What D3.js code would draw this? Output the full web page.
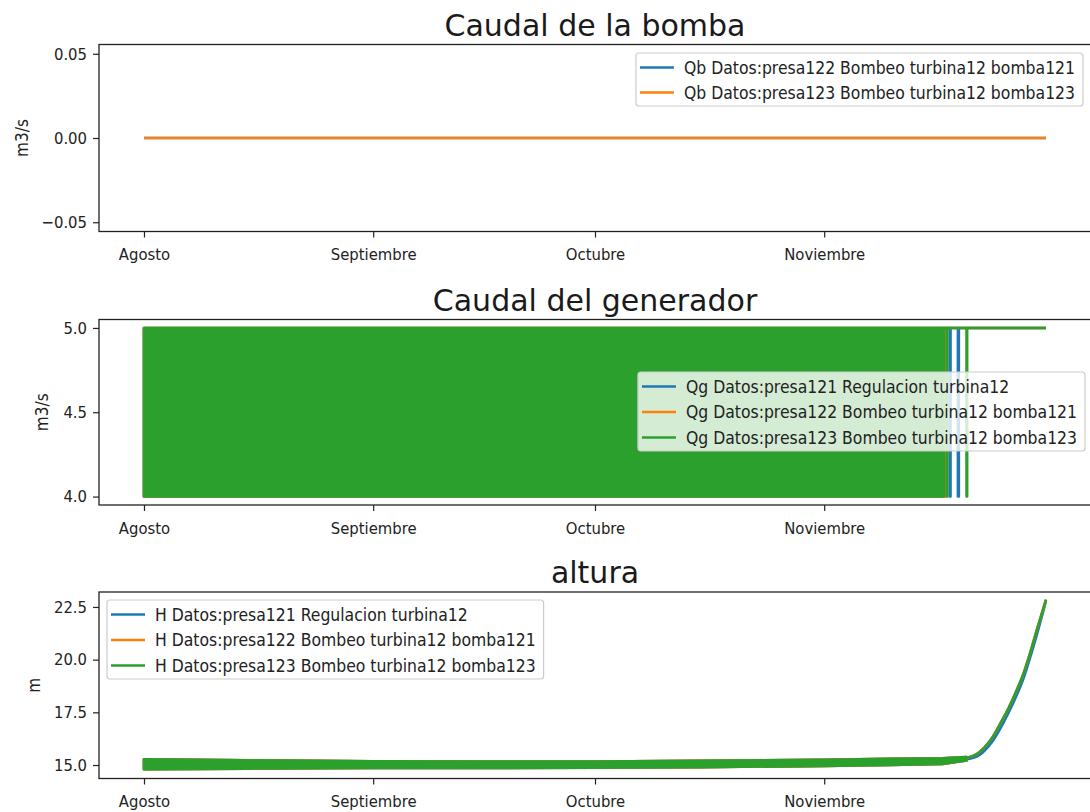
<!DOCTYPE html>
<html>
<head>
<meta charset="utf-8">
<script src="https://cdn.jsdelivr.net/npm/d3@7"></script>
<style>
  body { margin: 0; background: #fff; }
  .tick text, .lg text { font-family: "DejaVu Sans Condensed", "DejaVu Sans", sans-serif; font-stretch: condensed; }
</style>
</head>
<body>
<svg id="chart" width="1090" height="812"></svg>
<script>
// --- data ---
var monthDates = ["2018-08-01T00:00", "2018-09-01T00:00", "2018-10-01T00:00", "2018-11-01T00:00"];
var monthLabels = ["Agosto", "Septiembre", "Octubre", "Noviembre"];

// caudal de la bomba
var qbLabels = ["Qb Datos:presa122 Bombeo turbina12 bomba121", "Qb Datos:presa123 Bombeo turbina12 bomba123"];
var qbDates = ["2018-08-01T00:00", "2018-12-01T00:00"];
var qbPresa122 = [0, 0];
var qbPresa123 = [0, 0];
var qbTicks = [-0.05, 0.00, 0.05];

// caudal del generador: hourly switching 4 <-> 5 (drawn as its envelope), then last switches
var qgLabels = ["Qg Datos:presa121 Regulacion turbina12", "Qg Datos:presa122 Bombeo turbina12 bomba121", "Qg Datos:presa123 Bombeo turbina12 bomba123"];
var qgSwitchStart = "2018-08-01T00:00";
var qgSwitchEnd = ["2018-11-17T03:00", "2018-11-17T04:00", "2018-11-17T05:00"];
var qgSwitchRange = [4, 5];
var qgTailDates121 = ["2018-11-17T03:00", "2018-11-18T00:00", "2018-11-18T02:00", "2018-11-19T02:00", "2018-11-19T05:00", "2018-12-01T00:00"];
var qgTail121 = [5, 4, 5, 4, 5, 5];
var qgTailDates122 = ["2018-11-17T04:00", "2018-11-17T10:00", "2018-11-17T12:00", "2018-12-01T00:00"];
var qgTail122 = [5, 4, 5, 5];
var qgTailDates123 = ["2018-11-17T05:00", "2018-11-17T14:00", "2018-11-17T16:00", "2018-11-20T06:00", "2018-11-20T08:00", "2018-12-01T00:00"];
var qgTail123 = [5, 4, 5, 4, 5, 5];
var qgTicks = [4.0, 4.5, 5.0];

// altura: noisy band, then rising curve
var hLabels = ["H Datos:presa121 Regulacion turbina12", "H Datos:presa122 Bombeo turbina12 bomba121", "H Datos:presa123 Bombeo turbina12 bomba123"];
var hNoiseDates = ["2018-08-01T00:00", "2018-08-15T00:00", "2018-09-01T00:00", "2018-09-15T00:00", "2018-10-01T00:00", "2018-10-15T00:00", "2018-11-01T00:00", "2018-11-10T00:00", "2018-11-17T00:00", "2018-11-20T06:00"];
var hNoiseLow = [14.80, 14.83, 14.86, 14.86, 14.87, 14.90, 14.95, 15.00, 15.05, 15.22];
var hNoiseHigh = [15.27, 15.22, 15.18, 15.16, 15.16, 15.20, 15.25, 15.30, 15.32, 15.38];
var hRiseDates = ["2018-11-20T06:00", "2018-11-21T15:00", "2018-11-22T13:00", "2018-11-23T16:00", "2018-11-24T19:00", "2018-11-25T22:00", "2018-11-27T01:00", "2018-11-27T23:00", "2018-11-28T20:00", "2018-11-29T18:00", "2018-12-01T00:00"];
var hRise121 = [15.28, 15.40, 15.63, 16.08, 16.72, 17.47, 18.32, 19.12, 20.08, 21.18, 22.80];
var hRise122 = [15.33, 15.52, 15.79, 16.27, 16.95, 17.69, 18.56, 19.35, 20.30, 21.40, 22.85];
var hRise123 = [15.33, 15.52, 15.79, 16.27, 16.95, 17.69, 18.56, 19.35, 20.30, 21.40, 22.85];
var hTicks = [15.0, 17.5, 20.0, 22.5];

var colors = ["#1f77b4", "#ff7f0e", "#2ca02c"];

// --- drawing ---
var parse = d3.isoParse;
var svg = d3.select('#chart');
var lw = 2.6;

var x = d3.scaleTime()
    .domain([d3.timeHour.offset(parse("2018-08-01T00:00"), -146), d3.timeHour.offset(parse("2018-12-01T00:00"), 146)])
    .range([99, 1091]);

function panel(top, bottom, yDomain, ticks, fmt, title, ylabel, ylabelX) {
  var g = svg.append('g');
  var y = d3.scaleLinear().domain(yDomain).range([bottom, top]);
  var plot = g.append('g');

  g.append('text').attr('x', 595).attr('y', top - 9)
    .attr('text-anchor', 'middle')
    .style('font-family', 'DejaVu Sans').style('font-size', '30px').style('fill', '#1a1a1a')
    .text(title);

  var ya = g.append('g').attr('transform', 'translate(99,0)')
    .call(d3.axisLeft(y).tickValues(ticks).tickFormat(fmt).tickSize(6).tickPadding(6));
  var xa = g.append('g').attr('transform', 'translate(0,' + bottom + ')')
    .call(d3.axisBottom(x).tickValues(monthDates.map(parse))
      .tickFormat(function(d, i) { return monthLabels[i]; }).tickSize(6).tickPadding(11));
  [ya, xa].forEach(function(a) {
    a.select('.domain').remove();
    a.selectAll('.tick line').attr('stroke', '#222').attr('stroke-width', 1.2);
    a.selectAll('.tick text').style('font-size', '16.5px').attr('fill', '#222');
  });

  g.append('rect').attr('x', 99).attr('y', top).attr('width', 992).attr('height', bottom - top)
    .attr('fill', 'none').attr('stroke', '#222').attr('stroke-width', 1.3);

  g.append('text').attr('transform', 'translate(' + ylabelX + ',' + ((top + bottom) / 2) + ') rotate(-90)')
    .attr('text-anchor', 'middle')
    .style('font-family', '"DejaVu Sans Condensed", "DejaVu Sans"').style('font-stretch', 'condensed')
    .style('font-size', '17px').style('fill', '#222')
    .text(ylabel);

  return { g: g, plot: plot, y: y };
}

function drawLine(p, dates, vals, color, curve) {
  var pts = dates.map(function(d, i) { return [parse(d), vals[i]]; });
  p.plot.append('path')
    .attr('d', d3.line().curve(curve || d3.curveLinear)
      .x(function(d) { return x(d[0]); }).y(function(d) { return p.y(d[1]); })(pts))
    .attr('fill', 'none').attr('stroke', color).attr('stroke-width', lw)
    .attr('stroke-linejoin', 'round');
}

function drawBand(p, dates, lows, highs, color) {
  var pts = dates.map(function(d, i) { return [parse(d), lows[i], highs[i]]; });
  p.plot.append('path')
    .attr('d', d3.area()
      .x(function(d) { return x(d[0]); })
      .y0(function(d) { return p.y(d[1]); })
      .y1(function(d) { return p.y(d[2]); })(pts))
    .attr('fill', color).attr('stroke', color).attr('stroke-width', lw)
    .attr('stroke-linejoin', 'round');
}

function legend(p, labels, anchorX, alignRight, top, rowGap) {
  var lg = p.g.append('g').attr('class', 'lg');
  var box = lg.append('rect');
  var maxW = 0;
  var texts = labels.map(function(l, i) {
    var t = lg.append('text').attr('dy', '0.35em').style('font-size', '17.4px').attr('fill', '#222').text(l);
    maxW = Math.max(maxW, t.node().getComputedTextLength());
    return t;
  });
  var w = 4 + 34 + 10 + maxW + 8;
  var left = alignRight ? anchorX - w : anchorX;
  var h = 14 + (labels.length - 1) * rowGap + 14;
  box.attr('x', left).attr('y', top).attr('width', w).attr('height', h).attr('rx', 3)
    .attr('fill', 'rgba(255,255,255,0.8)').attr('stroke', '#cccccc').attr('stroke-width', 1.2);
  labels.forEach(function(l, i) {
    var cy = top + 14.5 + i * rowGap;
    lg.append('line').attr('x1', left + 4).attr('x2', left + 38).attr('y1', cy).attr('y2', cy)
      .attr('stroke', colors[i]).attr('stroke-width', lw);
    texts[i].attr('x', left + 48).attr('y', cy);
  });
}

// panel 1
var p1 = panel(44.5, 231.5, [-0.0555, 0.0555], qbTicks, d3.format('.2f'), 'Caudal de la bomba', 'm3/s', 28);
drawLine(p1, qbDates, qbPresa122, colors[0]);
drawLine(p1, qbDates, qbPresa123, colors[1]);
p1.g.selectAll('.tick text').text(function() { return this.textContent.replace('-', '\u2212'); });
legend(p1, qbLabels, 1083, true, 53, 25);

// panel 2
var p2 = panel(319.5, 505, [3.95, 5.05], qgTicks, d3.format('.1f'), 'Caudal del generador', 'm3/s', 48);
var qgTails = [[qgTailDates121, qgTail121], [qgTailDates122, qgTail122], [qgTailDates123, qgTail123]];
qgLabels.forEach(function(l, i) {
  drawBand(p2, [qgSwitchStart, qgSwitchEnd[i]], [qgSwitchRange[0], qgSwitchRange[0]], [qgSwitchRange[1], qgSwitchRange[1]], colors[i]);
  drawLine(p2, qgTails[i][0], qgTails[i][1], colors[i], d3.curveStepAfter);
});
legend(p2, qgLabels, 1085, true, 372, 25.5);

// panel 3
var p3 = panel(592, 778.5, [14.36, 23.21], hTicks, d3.format('.1f'), 'altura', 'm', 40);
var hRises = [hRise121, hRise122, hRise123];
hLabels.forEach(function(l, i) {
  drawBand(p3, hNoiseDates, hNoiseLow, hNoiseHigh, colors[i]);
  drawLine(p3, hRiseDates, hRises[i], colors[i], d3.curveMonotoneX);
});
legend(p3, hLabels, 107, false, 600, 25.5);
</script>
</body>
</html>
